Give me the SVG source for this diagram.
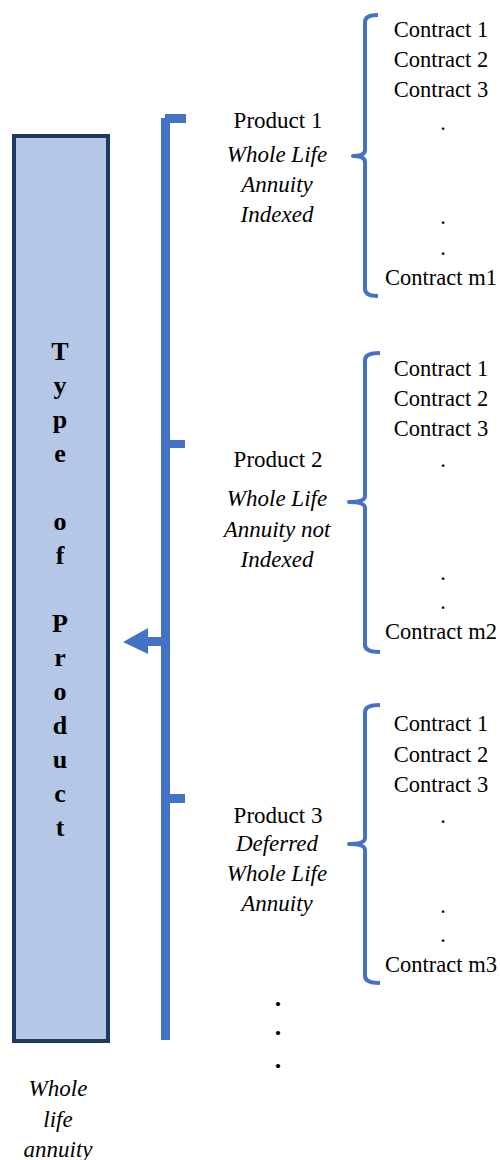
<svg xmlns="http://www.w3.org/2000/svg" width="500" height="1160" viewBox="0 0 500 1160">
<style>
text{font-family:'Liberation Serif','Times New Roman',Times,serif;fill:#000;text-anchor:middle}
.c{font-size:22.5px}
.p{font-size:23px}
.i{font-size:23px;font-style:italic}
.v{font-size:26px;font-weight:bold}
.d{font-size:26px;font-weight:bold}
.br{fill:none;stroke:#4472C4;stroke-width:4;stroke-linejoin:round}
.bl{fill:#4472C4}
</style>
<rect width="500" height="1160" fill="#fff"/>
<g id="type-of-product">
<rect x="14" y="136" width="94" height="905" fill="#B4C7E7" stroke="#203864" stroke-width="4"/>
<text class="v" x="60" y="360">T</text>
<text class="v" x="60" y="394">y</text>
<text class="v" x="60" y="428">p</text>
<text class="v" x="60" y="462">e</text>
<text class="v" x="60" y="530">o</text>
<text class="v" x="60" y="564">f</text>
<text class="v" x="60" y="632">P</text>
<text class="v" x="60" y="666">r</text>
<text class="v" x="60" y="700">o</text>
<text class="v" x="60" y="734">d</text>
<text class="v" x="60" y="768">u</text>
<text class="v" x="60" y="802">c</text>
<text class="v" x="60" y="836">t</text>
</g>
<g id="caption">
<text class="i" x="58" y="1096">Whole</text>
<text class="i" x="58" y="1127">life</text>
<text class="i" x="58" y="1157">annuity</text>
</g>
<g id="connectors">
<rect class="bl" x="161" y="118" width="9" height="922"/>
<rect class="bl" x="165" y="114" width="21" height="9"/>
<rect class="bl" x="165" y="440" width="20" height="8"/>
<rect class="bl" x="165" y="794" width="20" height="9"/>
<polygon class="bl" points="170,637 148,637 148,628 123,642 148,654 148,646 170,646"/>
<path class="br" d="M378,15 Q365,15 365,22 L365,150 Q365,156 353,156 Q365,156 365,162 L365,289 Q365,296 378,296"/>
<path class="br" d="M380,353 Q365,353 365,360 L365,496 Q365,502 349,502 Q365,502 365,508 L365,645 Q365,652 380,652"/>
<path class="br" d="M380,705 Q365,705 365,712 L365,838 Q365,844 349,844 Q365,844 365,850 L365,976 Q365,983 380,983"/>
</g>
<g id="product-1">
<text class="p" x="278" y="128">Product 1</text>
<text class="i" x="277" y="162">Whole Life</text>
<text class="i" x="277" y="192">Annuity</text>
<text class="i" x="277" y="222">Indexed</text>
</g>
<g id="product-2">
<text class="p" x="278" y="467">Product 2</text>
<text class="i" x="277" y="506">Whole Life</text>
<text class="i" x="277" y="537">Annuity not</text>
<text class="i" x="277" y="567">Indexed</text>
</g>
<g id="product-3">
<text class="p" x="278" y="823">Product 3</text>
<text class="i" x="277" y="851">Deferred</text>
<text class="i" x="277" y="881">Whole Life</text>
<text class="i" x="277" y="911">Annuity</text>
</g>
<g id="more-products">
<text class="d" x="278" y="1006">.</text>
<text class="d" x="278" y="1035">.</text>
<text class="d" x="278" y="1068">.</text>
</g>
<g id="contracts-1">
<text class="c" x="441" y="37">Contract 1</text>
<text class="c" x="441" y="67">Contract 2</text>
<text class="c" x="441" y="97">Contract 3</text>
<text class="c" x="443" y="130">.</text>
<text class="c" x="443" y="224">.</text>
<text class="c" x="443" y="255">.</text>
<text class="c" x="441" y="285">Contract m1</text>
</g>
<g id="contracts-2">
<text class="c" x="441" y="376">Contract 1</text>
<text class="c" x="441" y="406">Contract 2</text>
<text class="c" x="441" y="436">Contract 3</text>
<text class="c" x="443" y="467">.</text>
<text class="c" x="443" y="580">.</text>
<text class="c" x="443" y="609">.</text>
<text class="c" x="441" y="639">Contract m2</text>
</g>
<g id="contracts-3">
<text class="c" x="441" y="731">Contract 1</text>
<text class="c" x="441" y="762">Contract 2</text>
<text class="c" x="441" y="792">Contract 3</text>
<text class="c" x="443" y="823">.</text>
<text class="c" x="443" y="913">.</text>
<text class="c" x="443" y="942">.</text>
<text class="c" x="441" y="972">Contract m3</text>
</g>
</svg>
